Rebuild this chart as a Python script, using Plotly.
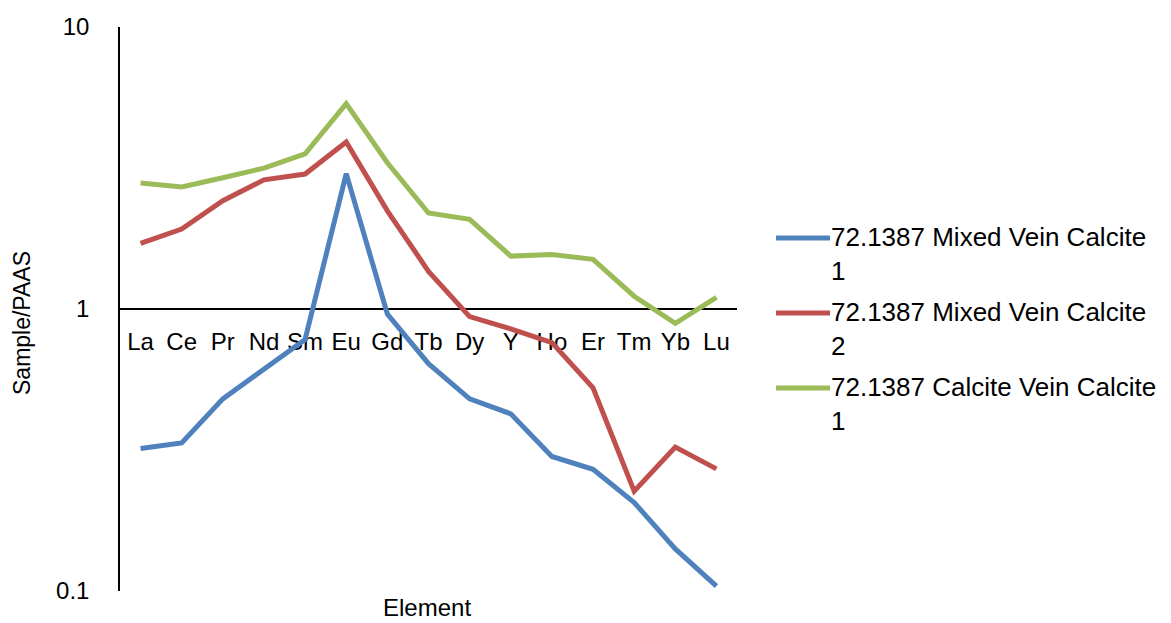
import plotly.graph_objects as go

# Rare earth element pattern, normalised to PAAS
elements = ["La", "Ce", "Pr", "Nd", "Sm", "Eu", "Gd", "Tb", "Dy", "Y", "Ho", "Er", "Tm", "Yb", "Lu"]

mixed_vein_1 = [0.32, 0.335, 0.48, 0.61, 0.78, 3.02, 0.96, 0.64, 0.48, 0.425, 0.30, 0.27, 0.206, 0.141, 0.104]
mixed_vein_2 = [1.71, 1.92, 2.42, 2.87, 3.01, 3.91, 2.23, 1.36, 0.94, 0.85, 0.76, 0.525, 0.226, 0.324, 0.271]
calcite_vein_1 = [2.80, 2.71, 2.92, 3.16, 3.55, 5.35, 3.30, 2.19, 2.08, 1.54, 1.56, 1.50, 1.11, 0.89, 1.10]

series_names = [
    "72.1387 Mixed Vein Calcite<br>1",
    "72.1387 Mixed Vein Calcite<br>2",
    "72.1387 Calcite Vein Calcite<br>1",
]
series_values = [mixed_vein_1, mixed_vein_2, calcite_vein_1]
series_colors = ["#4F81BD", "#C0504D", "#9BBB59"]

y_ticks = [0.1, 1, 10]
y_tick_labels = ["0.1", "1", "10"]

FONT = "Arial, Liberation Sans, sans-serif"
W, H = 1171, 623
ML, MR, MT, MB = 120, 434, 27, 32
PW, PH = W - ML - MR, H - MT - MB


def px_x(x):
    return (x - ML) / PW


def px_y(y):
    return (H - MB - y) / PH


fig = go.Figure()
for name, vals, col in zip(series_names, series_values, series_colors):
    fig.add_trace(go.Scatter(
        x=elements, y=vals, mode="lines", name=name,
        line=dict(color=col, width=5), showlegend=False,
    ))

# Legend: line sample plus wrapped label for each series
for i, (name, col) in enumerate(zip(series_names, series_colors)):
    yc = 238 + 75 * i
    fig.add_shape(type="line", xref="paper", yref="paper",
                  x0=px_x(776), x1=px_x(830), y0=px_y(yc), y1=px_y(yc),
                  line=dict(color=col, width=5))
    fig.add_annotation(xref="paper", yref="paper", x=px_x(830), y=px_y(yc + 16),
                       xanchor="left", yanchor="middle", align="left",
                       text=name, showarrow=False, borderpad=0,
                       font=dict(family=FONT, size=26, color="#000000"))

fig.add_annotation(xref="paper", yref="paper", x=px_x(22), y=px_y(323),
                   text="Sample/PAAS", textangle=-90, showarrow=False,
                   xanchor="center", yanchor="middle",
                   font=dict(family=FONT, size=23, color="#000000"))
fig.add_annotation(xref="paper", yref="paper", x=px_x(427), y=px_y(622),
                   text="Element", showarrow=False, borderpad=0,
                   xanchor="center", yanchor="bottom",
                   font=dict(family=FONT, size=24, color="#000000"))

fig.update_layout(
    width=W, height=H,
    margin=dict(l=ML, r=MR, t=MT, b=MB, pad=0),
    paper_bgcolor="white", plot_bgcolor="white",
    font=dict(family=FONT, color="#000000"),
    xaxis=dict(
        type="category", range=[-0.5, len(elements) - 0.5],
        anchor="free", position=0.5,
        showline=True, linecolor="#000000", linewidth=1.5,
        showgrid=False, zeroline=False, ticks="",
        tickfont=dict(family=FONT, size=24, color="#000000"),
        ticklabelstandoff=11, layer="below traces",
    ),
    yaxis=dict(
        type="log", range=[-1, 1],
        tickvals=y_ticks, ticktext=y_tick_labels,
        showline=True, linecolor="#000000", linewidth=1.5,
        showgrid=False, zeroline=False, ticks="",
        tickfont=dict(family=FONT, size=24, color="#000000"),
        ticklabelstandoff=24,
    ),
)

fig.write_html("out.html")
